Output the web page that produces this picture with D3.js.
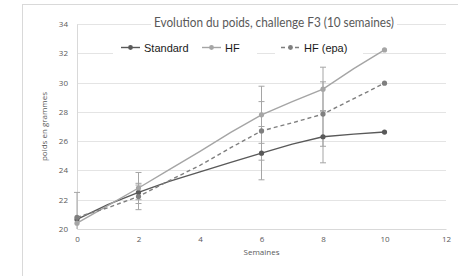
<!DOCTYPE html>
<html>
<head>
<meta charset="utf-8">
<script src="https://cdn.jsdelivr.net/npm/d3@7"></script>
<style>
  body { margin: 0; background: #fff; }
  svg { display: block; }
</style>
</head>
<body>
<div id="chart"></div>
<script>
// weekly measurements, markers only on the weighed weeks
const weeks = [0, 1, 2, 3, 4, 5, 6, 7, 8, 9, 10];
const standard = [20.65, 21.66, 22.5, 23.25, 23.9, 24.55, 25.18, 25.8, 26.3, 26.48, 26.62];
const hf = [20.4, 21.6, 22.8, 24.05, 25.3, 26.6, 27.8, 28.7, 29.55, 30.95, 32.23];
const hfEpa = [20.8, 21.45, 22.22, 23.3, 24.35, 25.55, 26.7, 27.25, 27.85, 28.9, 29.96];
const markedWeeks = [0, 2, 6, 8, 10];

// error bars (± value), null = none
const errWeeks = [0, 2, 6, 8];
const standardErr = [null, 0.5, 1.82, 1.78];
const hfErr = [null, 1.06, 1.95, 1.5];
const hfEpaErr = [1.7, 0.9, 2.0, 2.2];

const xTicks = [0, 2, 4, 6, 8, 10, 12];
const yTicks = [20, 22, 24, 26, 28, 30, 32, 34];

const title = 'Evolution du poids, challenge F3 (10 semaines)';
const xLabel = 'Semaines';
const yLabel = 'poids en grammes';

const series = [
  { name: 'Standard', values: standard, err: standardErr, color: '#595959', dash: null },
  { name: 'HF', values: hf, err: hfErr, color: '#a5a5a5', dash: null },
  { name: 'HF (epa)', values: hfEpa, err: hfEpaErr, color: '#7f7f7f', dash: '4,3' }
];

const boxWidth = 458;
const boxHeight = 276;
const margin = { top: 24, right: 12, bottom: 47, left: 77 };
const graphWidth = boxWidth - margin.left - margin.right;
const graphHeight = boxHeight - margin.top - margin.bottom;

const svg = d3.select('#chart')
  .append('svg')
  .attr('width', boxWidth)
  .attr('height', boxHeight);

// chart frame
svg.append('rect')
  .attr('x', 22.5).attr('y', 4.5)
  .attr('width', 460).attr('height', 300)
  .attr('fill', 'none')
  .attr('stroke', '#d9d9d9');

const graph = svg.append('g')
  .attr('transform', `translate(${margin.left}, ${margin.top})`);

const xScale = d3.scaleLinear().domain([0, 12]).range([0, graphWidth]);
const yScale = d3.scaleLinear().domain([20, 34]).range([graphHeight, 0]);

// grid
graph.append('g')
  .selectAll('line')
  .data(yTicks.slice(1))
  .enter().append('line')
  .attr('x1', 0).attr('x2', graphWidth)
  .attr('y1', d => Math.round(yScale(d)) + 0.5)
  .attr('y2', d => Math.round(yScale(d)) + 0.5)
  .attr('stroke', '#e4e4e4');

const xAxis = d3.axisBottom(xScale).tickValues(xTicks).tickSize(0).tickPadding(7);
const yAxis = d3.axisLeft(yScale).tickValues(yTicks).tickSize(0).tickPadding(9);

const xAxisGroup = graph.append('g')
  .attr('transform', `translate(0, ${graphHeight})`)
  .call(xAxis);
const yAxisGroup = graph.append('g').call(yAxis);

[xAxisGroup, yAxisGroup].forEach(g => {
  g.select('.domain').attr('stroke', '#d9d9d9');
  g.selectAll('text')
    .attr('fill', '#595959')
    .style('font-family', '"Open Sans", sans-serif')
    .style('font-size', '8px');
});

// error bars
const capHalf = 3;
series.forEach(s => {
  const bars = errWeeks.map((w, i) => ({ w: w, v: s.values[weeks.indexOf(w)], e: s.err[i] }))
    .filter(d => d.e !== null);
  const g = graph.append('g').attr('stroke', '#a5a5a5').attr('stroke-width', 1);
  bars.forEach(d => {
    const x = xScale(d.w);
    const top = yScale(d.v + d.e);
    const bot = Math.min(yScale(d.v - d.e), graphHeight);
    g.append('line').attr('x1', x).attr('x2', x).attr('y1', top).attr('y2', bot);
    g.append('line').attr('x1', x - capHalf).attr('x2', x + capHalf).attr('y1', top).attr('y2', top);
    if (yScale(d.v - d.e) <= graphHeight) {
      g.append('line').attr('x1', x - capHalf).attr('x2', x + capHalf).attr('y1', bot).attr('y2', bot);
    }
  });
});

// lines
const line = d3.line()
  .x(d => xScale(d.w))
  .y(d => yScale(d.v));

series.forEach(s => {
  const pts = weeks.map((w, i) => ({ w: w, v: s.values[i] }));
  graph.append('path')
    .datum(pts)
    .attr('fill', 'none')
    .attr('stroke', s.color)
    .attr('stroke-width', 1.4)
    .attr('stroke-dasharray', s.dash)
    .attr('d', line);
  graph.append('g')
    .selectAll('circle')
    .data(pts.filter(d => markedWeeks.includes(d.w)))
    .enter().append('circle')
    .attr('cx', d => xScale(d.w))
    .attr('cy', d => yScale(d.v))
    .attr('r', 2.6)
    .attr('fill', s.color);
});

// axis titles
svg.append('text')
  .attr('x', margin.left + graphWidth / 2)
  .attr('y', 255)
  .attr('text-anchor', 'middle')
  .attr('fill', '#595959')
  .style('font-family', '"Open Sans", sans-serif')
  .style('font-size', '8px')
  .text(xLabel);

svg.append('text')
  .attr('transform', `translate(47, ${margin.top + graphHeight / 2}) rotate(-90)`)
  .attr('text-anchor', 'middle')
  .attr('fill', '#595959')
  .style('font-family', '"Open Sans", sans-serif')
  .style('font-size', '8px')
  .text(yLabel);

// title, with white backing over the top gridline
svg.append('rect')
  .attr('x', 151).attr('y', 12).attr('width', 246).attr('height', 20)
  .attr('fill', '#fff');
svg.append('text')
  .attr('x', 154)
  .attr('y', 26.5)
  .attr('textLength', 240)
  .attr('lengthAdjust', 'spacingAndGlyphs')
  .attr('fill', '#595959')
  .style('font-family', 'Lato, sans-serif')
  .style('font-size', '13px')
  .text(title);

// legend
const legendItems = [
  { s: series[0], x: 121, box: [113, 196] },
  { s: series[1], x: 202, box: [196, 257] },
  { s: series[2], x: 281, box: [275, 363] }
];
const legend = svg.append('g');
legendItems.forEach(d => {
  legend.append('rect')
    .attr('x', d.box[0]).attr('y', 39)
    .attr('width', d.box[1] - d.box[0]).attr('height', 16)
    .attr('fill', '#fff');
  legend.append('line')
    .attr('x1', d.x).attr('x2', d.x + 19)
    .attr('y1', 47.5).attr('y2', 47.5)
    .attr('stroke', d.s.color)
    .attr('stroke-width', 1.4)
    .attr('stroke-dasharray', d.s.dash);
  legend.append('circle')
    .attr('cx', d.x + 9.5).attr('cy', 47.5).attr('r', 2.4)
    .attr('fill', d.s.color);
  legend.append('text')
    .attr('x', d.x + 23)
    .attr('y', 51.5)
    .attr('fill', '#1a1a1a')
    .style('font-family', '"Liberation Sans", Arial, sans-serif')
    .style('font-size', '11px')
    .text(d.s.name);
});
</script>
</body>
</html>
